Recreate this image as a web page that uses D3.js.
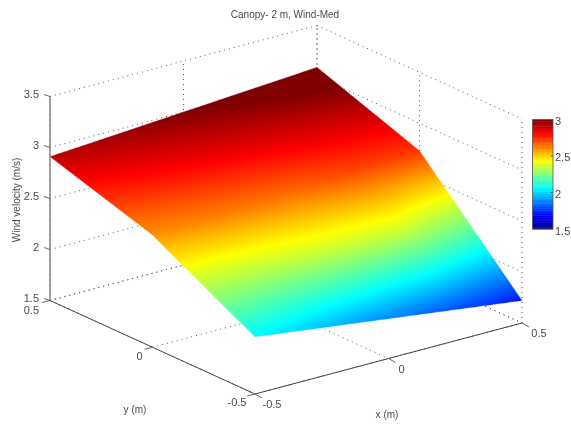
<!DOCTYPE html>
<html><head><meta charset="utf-8">
<script src="https://cdn.jsdelivr.net/npm/d3@7"></script>
<style>
html,body{margin:0;padding:0;background:#fff}
#w{position:relative;width:571px;height:425px;filter:blur(0.35px)}
svg,canvas{position:absolute;left:0;top:0;display:block}
text{font-family:"Liberation Sans",Arial,sans-serif;font-size:10px;fill:#4a4a4a}
</style></head><body>
<div id="w"><svg id="b" width="571" height="425"></svg><canvas id="s" width="571" height="425"></canvas><svg id="c" width="571" height="425"></svg></div>
<script>
const title = "Canopy- 2 m, Wind-Med";
const xLabel = "x (m)", yLabel = "y (m)", zLabel = "Wind velocity (m/s)";
const xGrid = [-0.5,-0.25,0,0.25,0.5];
const yGrid = [0.5,0.25,0,-0.25,-0.5];
const row1 = [2.91,2.955,3.00,3.045,3.09];
const row2 = [2.755,2.80,2.84,2.875,2.91];
const row3 = [2.60,2.63,2.65,2.71,2.73];
const row4 = [2.33,2.34,2.37,2.37,2.225];
const row5 = [2.06,1.975,1.89,1.805,1.72];
const zRows = [row1,row2,row3,row4,row5];
const xTicks = [-0.5,0,0.5];
const yTicks = [-0.5,0,0.5];
const zTicks = [1.5,2,2.5,3,3.5];
const cbTicks = [1.5,2,2.5,3];

const back = d3.select("#b"), svg = d3.select("#c");
const xToSx = d3.scaleLinear().domain([-0.5,0.5]).range([0,267]);
const yToSx = d3.scaleLinear().domain([-0.5,0.5]).range([255,50]);
const xToSy = d3.scaleLinear().domain([-0.5,0.5]).range([0,-71]);
const yToSy = d3.scaleLinear().domain([-0.5,0.5]).range([394,300.5]);
const zToSy = d3.scaleLinear().domain([1.5,3.5]).range([0,-204]);
const P = (x,y,z)=>[xToSx(x)+yToSx(y), xToSy(x)+yToSy(y)+zToSy(z)];

const jetStops = [[0,0,0,143],[.125,0,0,255],[.375,0,255,255],[.625,255,255,0],[.875,255,0,0],[1,128,0,0]];
const jet = d3.scaleLinear().domain(jetStops.map(d=>d[0]))
  .range(jetStops.map(d=>`rgb(${d[1]},${d[2]},${d[3]})`)).clamp(true);
const cScale = d3.scaleLinear().domain([1.5,3]).range([0,1]).clamp(true);

const seg = (a,b,stroke,w,dash)=>back.append("line").attr("x1",a[0]).attr("y1",a[1]).attr("x2",b[0]).attr("y2",b[1])
  .attr("stroke",stroke).attr("stroke-width",w).attr("stroke-dasharray",dash||null);
const grid=(a,b)=>seg(a,b,"#555",1,"1 4");

zTicks.forEach(z=>{ grid(P(-.5,.5,z),P(.5,.5,z)); grid(P(.5,.5,z),P(.5,-.5,z)); });
xTicks.forEach(x=>{ grid(P(x,.5,1.5),P(x,.5,3.5)); grid(P(x,.5,1.5),P(x,-.5,1.5)); });
yTicks.forEach(y=>{ grid(P(.5,y,1.5),P(.5,y,3.5)); grid(P(-.5,y,1.5),P(.5,y,1.5)); });

seg(P(-.5,.5,1.5),P(-.5,.5,3.5),"#808080",1.4);
seg(P(-.5,.5,1.5),P(-.5,-.5,1.5),"#444",1);
seg(P(-.5,-.5,1.5),P(.5,-.5,1.5),"#444",1);
zTicks.forEach(z=>{const p=P(-.5,.5,z); seg(p,[p[0]-6,p[1]-2],"#666",1);});
yTicks.forEach(y=>{const p=P(-.5,y,1.5); seg(p,[p[0]-8,p[1]+2],"#666",1);});
xTicks.forEach(x=>{const p=P(x,-.5,1.5); seg(p,[p[0]+7,p[1]+4],"#666",1);});

// surface: Gouraud-shaded triangles in a 3x supersampled buffer, scaled down for smooth edges
const SS=3, W=571*SS, H=425*SS;
const off=document.createElement("canvas"); off.width=W; off.height=H;
const octx=off.getContext("2d"), img=octx.createImageData(W,H), buf=img.data;
const lut=d3.range(1024).map(i=>d3.rgb(jet(i/1023)));
function tri(a,b,c){
  const [ax,ay,bx,by,cx,cy]=[a.p[0]*SS,a.p[1]*SS,b.p[0]*SS,b.p[1]*SS,c.p[0]*SS,c.p[1]*SS];
  const den=(by-cy)*(ax-cx)+(cx-bx)*(ay-cy); if(!den)return;
  const x0=Math.max(0,Math.floor(Math.min(ax,bx,cx))),x1=Math.min(W-1,Math.ceil(Math.max(ax,bx,cx)));
  const y0=Math.max(0,Math.floor(Math.min(ay,by,cy))),y1=Math.min(H-1,Math.ceil(Math.max(ay,by,cy)));
  for(let y=y0;y<=y1;y++)for(let x=x0;x<=x1;x++){
    const px=x+.5,py=y+.5;
    const l1=((by-cy)*(px-cx)+(cx-bx)*(py-cy))/den, l2=((cy-ay)*(px-cx)+(ax-cx)*(py-cy))/den, l3=1-l1-l2;
    if(l1<-1e-3||l2<-1e-3||l3<-1e-3)continue;
    const z=l1*a.z+l2*b.z+l3*c.z, col=lut[Math.round(cScale(z)*1023)], o=(y*W+x)*4;
    buf[o]=col.r;buf[o+1]=col.g;buf[o+2]=col.b;buf[o+3]=255;
  }
}
const sub=6;
for(let r=0;r<yGrid.length-1;r++)for(let c=0;c<xGrid.length-1;c++){
  const q=(a,b)=>{
    const s=a/sub,t=b/sub;
    const x=xGrid[c]+(xGrid[c+1]-xGrid[c])*s, y=yGrid[r]+(yGrid[r+1]-yGrid[r])*t;
    const z=(1-t)*((1-s)*zRows[r][c]+s*zRows[r][c+1])+t*((1-s)*zRows[r+1][c]+s*zRows[r+1][c+1]);
    return {p:P(x,y,z),z};
  };
  for(let i=0;i<sub;i++)for(let j=0;j<sub;j++){
    const A=q(i,j),B=q(i+1,j),C=q(i+1,j+1),D=q(i,j+1);
    tri(A,B,C);tri(A,C,D);
  }
}
octx.putImageData(img,0,0);
const ctx=document.getElementById("s").getContext("2d");
ctx.imageSmoothingEnabled=true;ctx.imageSmoothingQuality="high";
ctx.drawImage(off,0,0,571,425);

// colour bar
const cbX=d3.scaleLinear().domain([0,1]).range([532.5,553]);
const cbY=d3.scaleLinear().domain([1.5,3]).range([229,119.5]);
const levels=d3.range(64).map(i=>1.5+1.5*i/64);
svg.append("g").selectAll("rect").data(levels).join("rect")
  .attr("x",cbX(0)).attr("width",cbX(1)-cbX(0))
  .attr("y",d=>cbY(d+1.5/64)).attr("height",d=>cbY(d)-cbY(d+1.5/64)+0.4)
  .attr("fill",d=>jet(cScale(d+0.75/64)));
svg.append("rect").attr("x",cbX(0)).attr("y",cbY(3)).attr("width",cbX(1)-cbX(0)).attr("height",cbY(1.5)-cbY(3))
  .attr("fill","none").attr("stroke","#555").attr("stroke-width",0.8);
cbTicks.forEach(t=>{
  svg.append("text").attr("x",555).attr("y",cbY(t)+(t===3?5.5:t===1.5?5.5:5)).style("font-size","11px").text(t);
  if(t!==3&&t!==1.5){
    svg.append("line").attr("x1",cbX(1)-2).attr("x2",cbX(1)).attr("y1",cbY(t)).attr("y2",cbY(t)).attr("stroke","#555");
  }
});

const label=(x,y,s,a)=>svg.append("text").attr("x",x).attr("y",y).attr("text-anchor",a||"middle").text(s).style("font-size","11px");
zTicks.forEach(z=>{const p=P(-.5,.5,z); label(p[0]-11,p[1]+1,z,"end");});
yTicks.forEach(y=>{const p=P(-.5,y,1.5); if(y===.5)label(p[0]-11,p[1]+13,y,"end"); else if(y===0)label(p[0]-13,p[1]+13,y); else label(p[0]-18,p[1]+12,y);});
xTicks.forEach(x=>{const p=P(x,-.5,1.5); if(x===-.5)label(p[0]+17,p[1]+14,x); else if(x===0)label(p[0]+13,p[1]+14,x); else label(p[0]+17,p[1]+14,x);});

svg.append("text").attr("x",285).attr("y",18).attr("text-anchor","middle").text(title);
svg.append("text").attr("x",135).attr("y",413).attr("text-anchor","middle").text(yLabel);
svg.append("text").attr("x",387).attr("y",418).attr("text-anchor","middle").text(xLabel);
svg.append("text").attr("transform","translate(20,200) rotate(-90)").attr("text-anchor","middle").text(zLabel);
</script></body></html>
